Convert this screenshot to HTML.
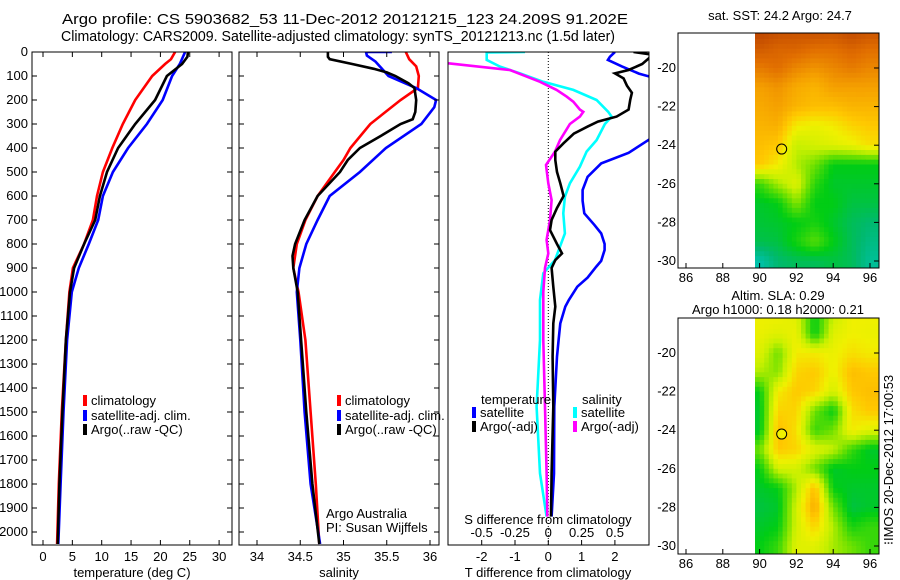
<!DOCTYPE html>
<html><head><meta charset="utf-8">
<style>
body{margin:0;background:#fff;}
svg{display:block;font-family:"Liberation Sans",sans-serif;}
text{font-size:13px;fill:#000;}
</style></head>
<body>
<svg id="fig" width="900" height="580" viewBox="0 0 900 580" xmlns="http://www.w3.org/2000/svg">
<defs>
<clipPath id="c1"><rect x="32" y="52" width="200" height="493"/></clipPath>
<clipPath id="c2"><rect x="239" y="52" width="200" height="493"/></clipPath>
<clipPath id="c3"><rect x="448" y="52" width="201" height="493"/></clipPath>
<clipPath id="cm1"><rect x="755" y="33" width="124" height="235"/></clipPath>
<clipPath id="cm2"><rect x="755" y="318" width="124" height="236"/></clipPath>
</defs>
<text x="62" y="24" textLength="566" lengthAdjust="spacingAndGlyphs" style="font-size:15px">Argo profile: CS 5903682_53 11-Dec-2012 20121215_123 24.209S 91.202E</text>
<text x="61" y="41" textLength="554" lengthAdjust="spacingAndGlyphs" style="font-size:15px">Climatology: CARS2009. Satellite-adjusted climatology: synTS_20121213.nc (1.5d later)</text>
<g id="g1"></g>
<g id="g2"></g>
<g id="g3"></g>
<g id="gm1"></g>
<g id="gm2"></g>
<text transform="translate(893,460) rotate(-90)" text-anchor="middle">⁝IMOS 20-Dec-2012 17:00:53</text>
</svg>
<script>
// ---- temperature panel data ----
const tRedD=[0,30,50,100,200,300,400,500,600,700,800,900,1000,1200,1500,1800,2050];
const tRedV=[22.5,21.8,20.8,18.6,15.7,13.6,11.8,10.2,9.2,8.5,7.0,5.1,4.5,3.9,3.2,2.7,2.4];
const tBluD=[0,50,100,200,300,400,500,600,700,800,900,1000,1200,1500,1800,2050];
const tBluV=[24.2,23.3,22.0,20.4,17.7,14.5,11.9,10.2,9.4,7.8,6.1,4.9,4.1,3.5,3.0,2.6];
const tBlkD=[0,20,50,100,200,300,400,500,600,700,800,900,1000,1200,1500,1800,2050];
const tBlkV=[24.7,24.6,23.7,21.1,19.1,15.7,12.8,10.9,9.7,8.9,7.0,5.3,4.6,3.9,3.3,2.8,2.5];
const tTicks=[0,5,10,15,20,25,30];
const depthTicks=[0,100,200,300,400,500,600,700,800,900,1000,1100,1200,1300,1400,1500,1600,1700,1800,1900,2000];
// ---- salinity panel data ----
const sRedD=[0,30,60,100,150,200,300,400,450,500,600,700,800,900,1000,1200,1500,1800,2050];
const sRedV=[35.72,35.76,35.84,35.87,35.86,35.66,35.31,35.08,35.0,34.9,34.70,34.56,34.46,34.42,34.48,34.56,34.62,34.68,34.72];
const sBluD=[0,0,15,40,100,150,200,230,300,400,500,600,700,800,900,1000,1200,1500,1800,2050];
const sBluV=[35.56,35.26,35.27,35.37,35.52,35.84,36.07,36.05,35.9,35.49,35.19,34.84,34.70,34.57,34.49,34.46,34.50,34.55,34.62,34.73];
const sBlkD=[0,20,30,50,70,85,100,130,150,200,250,280,300,350,400,450,500,600,700,800,850,900,1000,1200,1500,1800,2050];
const sBlkV=[34.82,34.82,34.84,35.1,35.35,35.5,35.6,35.75,35.82,35.84,35.83,35.8,35.66,35.43,35.19,35.05,34.96,34.70,34.55,34.44,34.41,34.42,34.47,34.51,34.57,34.64,34.72];
const sTicks=[34,34.5,35,35.5,36];
// ---- difference panel data ----
const dTSatD=[0,20,33,60,90,110,200,300,360,420,464,520,575,620,672,720,756,800,825,870,894,940,978,1033,1061,1131,1200,1269,1478,1756,1936];
const dTSatV=[2.0,1.85,1.79,2.21,2.72,3.23,4.05,3.85,3.08,2.41,1.59,1.18,1.03,1.03,1.08,1.38,1.59,1.69,1.69,1.59,1.44,1.18,0.87,0.62,0.51,0.36,0.31,0.26,0.18,0.17,0.1];
const dTArgD=[0,10,25,50,75,89,110,140,170,200,240,269,290,311,340,380,415,450,500,547,600,650,700,742,800,839,867,900,978,1061,1131,1269,1478,1756,1936];
const dTArgV=[2.56,3.08,3.03,2.82,2.41,2.0,2.26,2.36,2.51,2.46,2.41,2.05,1.49,1.18,0.77,0.46,0.21,0.21,0.26,0.36,0.46,0.26,0.10,0.05,0.26,0.41,0.21,0.10,0.15,0.21,0.15,0.13,0.15,0.10,0.08];
const dSSatD=[0,2,33,61,89,124,158,200,249,269,300,367,415,478,547,603,672,756,811,867,922,1033,1200,1478,1756,1936];
const dSSatV=[-0.175,-0.4625,-0.4625,-0.3625,-0.2125,-0.0375,0.1875,0.3625,0.45,0.475,0.425,0.3625,0.2875,0.2375,0.1625,0.125,0.1125,0.125,0.0875,0.05,-0.0375,-0.0625,-0.0625,-0.0875,-0.0625,-0.0125];
const dSArgD=[35,47,75,124,158,186,207,240,249,269,300,367,415,471,547,617,700,783,839,900,1000,1200,1478,1756,1936];
const dSArgV=[-0.9,-0.75,-0.2875,-0.0625,0.0625,0.1375,0.1875,0.2375,0.2625,0.2375,0.1625,0.0875,0.05,-0.0175,0,0.025,0.0125,-0.0125,0,-0.025,-0.0375,-0.0375,-0.025,-0.0125,-0.0075];
const dTTicks=[-2,-1,0,1,2];
const dSTicks=[-0.5,-0.25,0,0.25,0.5];
const dSLabels=["-0.5","-0.25","0","0.25","0.5"];
// ---- map data (1-degree grid points, rows from north to south, cols 90..96 E) ----
const mapLats=[-18,-19,-20,-21,-22,-23,-24,-25,-26,-27,-28,-29,-30];
const mapLons=[90,91,92,93,94,95,96];
const sstGrid=[
[0.97,0.95,0.94,0.95,0.94,0.96,0.94],
[0.92,0.90,0.90,0.88,0.88,0.90,0.88],
[0.86,0.88,0.84,0.82,0.84,0.86,0.84],
[0.80,0.82,0.78,0.76,0.80,0.80,0.80],
[0.78,0.80,0.76,0.74,0.74,0.76,0.76],
[0.76,0.77,0.66,0.64,0.66,0.70,0.72],
[0.74,0.72,0.58,0.60,0.62,0.64,0.68],
[0.72,0.66,0.56,0.50,0.40,0.40,0.40],
[0.45,0.55,0.62,0.44,0.38,0.38,0.38],
[0.38,0.40,0.52,0.40,0.40,0.36,0.36],
[0.37,0.38,0.40,0.42,0.38,0.34,0.32],
[0.35,0.36,0.42,0.48,0.40,0.34,0.30],
[0.26,0.32,0.34,0.34,0.36,0.34,0.28]];
const slaGrid=[
[0.65,0.65,0.62,0.40,0.58,0.65,0.65],
[0.64,0.62,0.64,0.40,0.62,0.65,0.64],
[0.62,0.50,0.66,0.66,0.64,0.68,0.66],
[0.56,0.52,0.70,0.72,0.64,0.74,0.72],
[0.40,0.66,0.72,0.70,0.60,0.72,0.74],
[0.38,0.70,0.70,0.50,0.40,0.68,0.72],
[0.38,0.74,0.68,0.45,0.50,0.66,0.62],
[0.50,0.72,0.70,0.62,0.58,0.45,0.38],
[0.40,0.60,0.60,0.50,0.38,0.40,0.40],
[0.38,0.40,0.56,0.74,0.40,0.38,0.38],
[0.36,0.38,0.60,0.78,0.50,0.36,0.38],
[0.38,0.40,0.60,0.70,0.56,0.42,0.45],
[0.40,0.45,0.62,0.62,0.55,0.50,0.45]];
const mapLatTicks=[-20,-22,-24,-26,-28,-30];
const mapLonTicks=[86,88,90,92,94,96];
const argoLon=91.2, argoLat=-24.2;

const NS="http://www.w3.org/2000/svg";
function mk(parent,tag,attrs,txt){const e=document.createElementNS(NS,tag);for(const k in attrs)e.setAttribute(k,attrs[k]);if(txt!==undefined)e.textContent=txt;parent.appendChild(e);return e;}
const yD=d=>52+d*0.24;
const xT=v=>43+5.87*v;
const xS=v=>257+86.5*(v-34);
const xDT=v=>548.3+33.3*v;
const xDS=v=>548.3+133.2*v;

function line(g,D,V,fx,col,clip,name){
  const p=D.map((d,i)=>(i?'L':'M')+fx(V[i]).toFixed(1)+','+yD(d).toFixed(1)).join('');
  const e=mk(g,'path',{d:p,fill:'none',stroke:col,'stroke-width':2.6,'clip-path':'url(#'+clip+')'});
  
  
}
function frame(g,x,w,name){
  const e=mk(g,'rect',{x:x,y:52,width:w,height:493,fill:'none',stroke:'#000','stroke-width':1});
  
  
}
function yticks(g,x0,x1,labels){
  depthTicks.forEach(d=>{const y=yD(d);
    mk(g,'line',{x1:x0,y1:y,x2:x0+5,y2:y,stroke:'#000'});
    mk(g,'line',{x1:x1-5,y1:y,x2:x1,y2:y,stroke:'#000'});
    if(labels){const t=mk(g,'text',{x:28,y:y+4,'text-anchor':'end'},String(d));
      
      }
  });
}
function xticks(g,ticks,fx,labels,ylab){
  ticks.forEach((v,i)=>{const x=fx(v);
    mk(g,'line',{x1:x,y1:545,x2:x,y2:540,stroke:'#000'});
    mk(g,'line',{x1:x,y1:52,x2:x,y2:57,stroke:'#000'});
    const t=mk(g,'text',{x:x,y:ylab,'text-anchor':'middle'},labels?labels[i]:String(v));
    
    
  });
}
function legend(g,x,y,col,label){
  mk(g,'rect',{x:x,y:y-10,width:4,height:11,fill:col});
  const t=mk(g,'text',{x:x+8,y:y},label);
  
  
}
// panel 1
const g1=document.getElementById('g1');
line(g1,tRedD,tRedV,xT,'#f00','c1','temp-climatology-line');
line(g1,tBluD,tBluV,xT,'#00f','c1','temp-satellite-line');
line(g1,tBlkD,tBlkV,xT,'#000','c1','temp-argo-line');
frame(g1,32,200,'temperature-axes');
yticks(g1,32,232,true);
xticks(g1,tTicks,xT,null,561);
let t=mk(g1,'text',{x:132,y:577,'text-anchor':'middle'},'temperature (deg C)');


legend(g1,83,405,'#f00','climatology');
legend(g1,83,420,'#00f','satellite-adj. clim.');
legend(g1,83,434,'#000','Argo(..raw -QC)');
// panel 2
const g2=document.getElementById('g2');
line(g2,sRedD,sRedV,xS,'#f00','c2','sal-climatology-line');
line(g2,sBluD,sBluV,xS,'#00f','c2','sal-satellite-line');
line(g2,sBlkD,sBlkV,xS,'#000','c2','sal-argo-line');
frame(g2,239,200,'salinity-axes');
yticks(g2,239,439,false);
xticks(g2,sTicks,xS,["34","34.5","35","35.5","36"],561);
t=mk(g2,'text',{x:339,y:577,'text-anchor':'middle'},'salinity');


legend(g2,337,405,'#f00','climatology');
legend(g2,337,420,'#00f','satellite-adj. clim.');
legend(g2,337,434,'#000','Argo(..raw -QC)');
t=mk(g2,'text',{x:326,y:518},'Argo Australia');


t=mk(g2,'text',{x:326,y:532},'PI: Susan Wijffels');


// panel 3
const g3=document.getElementById('g3');
mk(g3,'line',{x1:548.3,y1:52,x2:548.3,y2:545,stroke:'#000','stroke-dasharray':'1,2'});
line(g3,dSSatD,dSSatV,xDS,'#0ff','c3','sal-diff-satellite-line');
line(g3,dSArgD,dSArgV,xDS,'#f0f','c3','sal-diff-argo-line');
line(g3,dTSatD,dTSatV,xDT,'#00f','c3','temp-diff-satellite-line');
line(g3,dTArgD,dTArgV,xDT,'#000','c3','temp-diff-argo-line');
frame(g3,448,201,'difference-axes');
dTTicks.forEach(v=>{const x=xDT(v);mk(g3,'line',{x1:x,y1:545,x2:x,y2:540,stroke:'#000'});
  const tt=mk(g3,'text',{x:x,y:561,'text-anchor':'middle'},String(v));
  
  });
dSTicks.forEach((v,i)=>{const tt=mk(g3,'text',{x:xDS(v),y:537,'text-anchor':'middle'},dSLabels[i]);
  
  });
t=mk(g3,'text',{x:548,y:524,'text-anchor':'middle'},'S difference from climatology');


t=mk(g3,'text',{x:548,y:577,'text-anchor':'middle'},'T difference from climatology');


t=mk(g3,'text',{x:481,y:404},'temperature');


t=mk(g3,'text',{x:582,y:404},'salinity');


legend(g3,472,417,'#00f','satellite');
legend(g3,472,431,'#000','Argo(-adj)');
legend(g3,573,417,'#0ff','satellite');
legend(g3,573,431,'#f0f','Argo(-adj)');
// maps
const stops=[[0.2,[0,200,230]],[0.32,[0,185,110]],[0.4,[0,205,20]],[0.5,[110,225,0]],[0.58,[200,240,0]],[0.65,[240,240,0]],[0.72,[255,200,0]],[0.8,[245,160,0]],[0.88,[225,110,0]],[0.96,[190,70,0]]];
function cmap(v){if(v<=stops[0][0])return 'rgb('+stops[0][1]+')';
  for(let i=1;i<stops.length;i++){if(v<=stops[i][0]){const a=stops[i-1],b=stops[i],f=(v-a[0])/(b[0]-a[0]);
    return 'rgb('+a[1].map((c,k)=>Math.round(c+(b[1][k]-c)*f)).join(',')+')';}}
  return 'rgb('+stops[stops.length-1][1]+')';}
function sample(grid,ri,ci){
  ri=Math.max(0,Math.min(grid.length-1,ri));ci=Math.max(0,Math.min(grid[0].length-1,ci));
  const r0=Math.floor(ri),c0=Math.floor(ci),r1=Math.min(r0+1,grid.length-1),c1=Math.min(c0+1,grid[0].length-1);
  const fr=ri-r0,fc=ci-c0;
  return grid[r0][c0]*(1-fr)*(1-fc)+grid[r0][c1]*(1-fr)*fc+grid[r1][c0]*fr*(1-fc)+grid[r1][c1]*fr*fc;
}
function drawMap(g,grid,top,bottom,clip,circleFill,name){
  const xL=v=>686+18.4*(v-86);
  const yL=v=>top+35+19.3*(-20-v);
  const cg=mk(g,'g',{'clip-path':'url(#'+clip+')'});
  const sub=4, step=1/sub;
  for(let lat=mapLats[0]+0.5; lat>mapLats[mapLats.length-1]-0.5; lat-=step){
    for(let lon=mapLons[0]-0.5; lon<mapLons[mapLons.length-1]+0.75; lon+=step){
      const ri=(mapLats[0]-(lat-step/2)), ci=((lon+step/2)-mapLons[0]);
      const v=sample(grid,ri,ci);
      const e=mk(cg,'rect',{x:xL(lon).toFixed(1),y:yL(lat).toFixed(1),width:(18.4*step+0.6).toFixed(1),height:(19.3*step+0.6).toFixed(1),fill:cmap(v)});
      
      
    }
  }
  const c=mk(g,'ellipse',{cx:xL(argoLon),cy:yL(argoLat),rx:5,ry:5,fill:circleFill,stroke:'#000','stroke-width':1});
  
  
  const fr=mk(g,'rect',{x:678,y:top,width:201,height:bottom-top,fill:'none',stroke:'#000'});
  
  
  mapLatTicks.forEach(v=>{const y=yL(v);mk(g,'line',{x1:874,y1:y,x2:879,y2:y,stroke:'#000'});
    const tt=mk(g,'text',{x:676,y:y+4,'text-anchor':'end'},String(v));
    
    });
  mapLonTicks.forEach(v=>{const x=xL(v);mk(g,'line',{x1:x,y1:bottom,x2:x,y2:bottom-5,stroke:'#000'});
    const tt=mk(g,'text',{x:x,y:bottom+14,'text-anchor':'middle'},String(v));
    
    });
}
const gm1=document.getElementById('gm1');
drawMap(gm1,sstGrid,33,268,'cm1','none','sst-map');
t=mk(gm1,'text',{x:780,y:20,'text-anchor':'middle'},'sat. SST: 24.2 Argo: 24.7');


const gm2=document.getElementById('gm2');
drawMap(gm2,slaGrid,318,554,'cm2','#f0f000','sla-map');
t=mk(gm2,'text',{x:778,y:300,'text-anchor':'middle'},'Altim. SLA: 0.29');


t=mk(gm2,'text',{x:778,y:314,'text-anchor':'middle'},'Argo h1000: 0.18 h2000: 0.21');


</script>
</body></html>
